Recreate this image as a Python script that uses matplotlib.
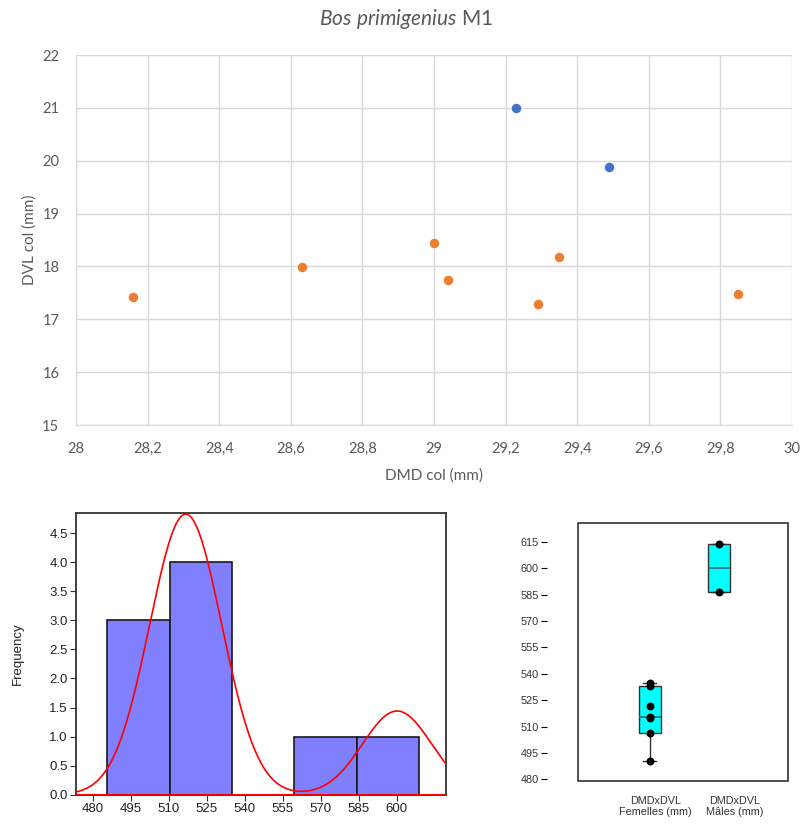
import numpy as np
import matplotlib
matplotlib.use("Agg")
import matplotlib.pyplot as plt
import matplotlib.transforms as mtransforms
from matplotlib.ticker import FuncFormatter, MultipleLocator

# --- données ---
dmd_femelles = [28.16, 28.63, 29.00, 29.04, 29.29, 29.35, 29.85]
dvl_femelles = [17.42, 17.99, 18.44, 17.75, 17.29, 18.17, 17.47]
dmd_males = [29.23, 29.49]
dvl_males = [21.00, 19.89]

hist_bords = [485.8, 510.4, 535.0, 559.6, 584.2, 608.8]
hist_effectifs = [3, 4, 0, 1, 1]

etiquettes_box = ["DMDxDVL\nFemelles (mm)", "DMDxDVL\nMâles (mm)"]

prod_f = np.array(dmd_femelles) * np.array(dvl_femelles)
prod_m = np.array(dmd_males) * np.array(dvl_males)

gris = "#595959"
plt.rcParams["mathtext.fontset"] = "custom"
plt.rcParams["mathtext.it"] = "Lato:italic"
plt.rcParams["mathtext.rm"] = "Lato"

fig = plt.figure(figsize=(8.01, 8.25), dpi=100)

# ---------- nuage de points (style Excel) ----------
ax1 = fig.add_axes([0.0949, 0.4848, 0.8939, 0.4485])
ax1.scatter(dmd_femelles, dvl_femelles, s=34, color="#ED7D31", zorder=3)
ax1.scatter(dmd_males, dvl_males, s=34, color="#4472C4", zorder=3)
ax1.set_xlim(28, 30)
ax1.set_ylim(15, 22)
ax1.xaxis.set_major_locator(MultipleLocator(0.2))
ax1.yaxis.set_major_locator(MultipleLocator(1))
ax1.xaxis.set_major_formatter(FuncFormatter(lambda v, p: f"{v:.1f}".rstrip("0").rstrip(".").replace(".", ",")))
ax1.grid(True, color="#D9D9D9", lw=1)
ax1.set_axisbelow(True)
for s in ax1.spines.values():
    s.set_visible(False)
ax1.spines["bottom"].set_visible(True)
ax1.spines["bottom"].set_color("#D9D9D9")
ax1.tick_params(length=0, labelsize=10.5, labelcolor=gris, pad=12, labelfontfamily="Lato")
ax1.set_xlabel("DMD col (mm)", fontsize=11, color=gris, family="Lato", labelpad=9)
ax1.set_ylabel("DVL col (mm)", fontsize=11, color=gris, family="Lato", labelpad=4)
fig.text(0.507, 0.977, r"$\mathit{Bos\ primigenius}$ M1", fontsize=15, color=gris,
         family="Lato", ha="center", va="center")

# ---------- histogramme ----------
ax2 = fig.add_axes([0.0949, 0.0367, 0.4619, 0.3411])
bords = np.array(hist_bords)
ax2.bar(bords[:-1], hist_effectifs, width=np.diff(bords), align="edge",
        color="#8080FF", edgecolor="#1a1a1a", lw=1.2, zorder=2)

# courbe : mélange de deux lois normales ajustées (femelles / mâles)
larg = np.diff(bords).mean()
xs = np.linspace(473.4, 619.5, 400)
courbe = np.zeros_like(xs)
for grp in (prod_f, prod_m):
    mu, sd = grp.mean(), grp.std()
    courbe += len(grp) * larg * np.exp(-0.5 * ((xs - mu) / sd) ** 2) / (sd * np.sqrt(2 * np.pi))
ax2.plot(xs, courbe, color="red", lw=1.2, zorder=3)
ax2.axhline(0, color="red", lw=1.5, zorder=4)
ax2.set_xlim(473.4, 619.5)
ax2.set_ylim(0, 4.84)
ax2.set_xticks(np.arange(480, 601, 15))
ax2.set_yticks(np.arange(0, 4.6, 0.5))
ax2.yaxis.set_major_formatter(FuncFormatter(lambda v, p: f"{v:.1f}"))
for s in ax2.spines.values():
    s.set_color("#333333")
    s.set_linewidth(1.3)
ax2.tick_params(labelsize=9.5, labelcolor="#222222", length=4, color="#333333",
                labelfontfamily="Liberation Sans", pad=2)
ax2.set_ylabel("Frequency", fontsize=9.5, family="Liberation Sans", labelpad=18, color="#222222")


# ---------- boîtes à moustaches ----------
def stats_boite(v):
    v = np.sort(np.asarray(v))
    n = len(v)
    moitie = n // 2
    bas = v[:moitie]
    haut = v[n - moitie:]
    return dict(med=np.median(v), q1=np.median(bas), q3=np.median(haut),
                whislo=v.min(), whishi=v.max(), fliers=[])


ax3 = fig.add_axes([0.7213, 0.0538, 0.2620, 0.3123])
positions = [1, 2]
ax3.bxp([stats_boite(prod_f), stats_boite(prod_m)], positions=positions, widths=0.32,
        patch_artist=True,
        boxprops=dict(facecolor="#00FFFF", edgecolor="#333333", lw=1),
        medianprops=dict(color="#1f6f6f", lw=1.2),
        whiskerprops=dict(color="#333333", lw=1),
        capprops=dict(color="#333333", lw=1), capwidths=0.2)
for pos, grp in zip(positions, (prod_f, prod_m)):
    ax3.scatter(np.full(len(grp), pos), grp, s=22, color="black", zorder=4)
ax3.set_xlim(-0.04, 3.0)
ax3.set_ylim(479.3, 625.8)
ax3.set_yticks(np.arange(480, 616, 15))
ax3.set_xticks(positions)
ax3.set_xticklabels(etiquettes_box)
ax3.spines["left"].set_position(("outward", 22.5))
ax3.spines["left"].set_visible(False)
for s in ("right", "top", "bottom"):
    ax3.spines[s].set_visible(False)
ax3.patch.set_edgecolor("#222222")
ax3.patch.set_linewidth(1.1)
ax3.tick_params(axis="y", length=4, width=0.8, labelsize=7.8, pad=1.5, labelcolor="#333333")
ax3.tick_params(axis="x", length=0, labelsize=7.8, pad=11, labelcolor="#333333")
for t in ax3.get_xticklabels() + ax3.get_yticklabels():
    t.set_family("Liberation Sans")
# les étiquettes de catégories sont légèrement décalées à droite
for t, dx in zip(ax3.get_xticklabels(), (6, 16)):
    t.set_transform(t.get_transform() + mtransforms.ScaledTranslation(dx / 100, 0, fig.dpi_scale_trans))

fig.savefig("out.png", dpi=100)
